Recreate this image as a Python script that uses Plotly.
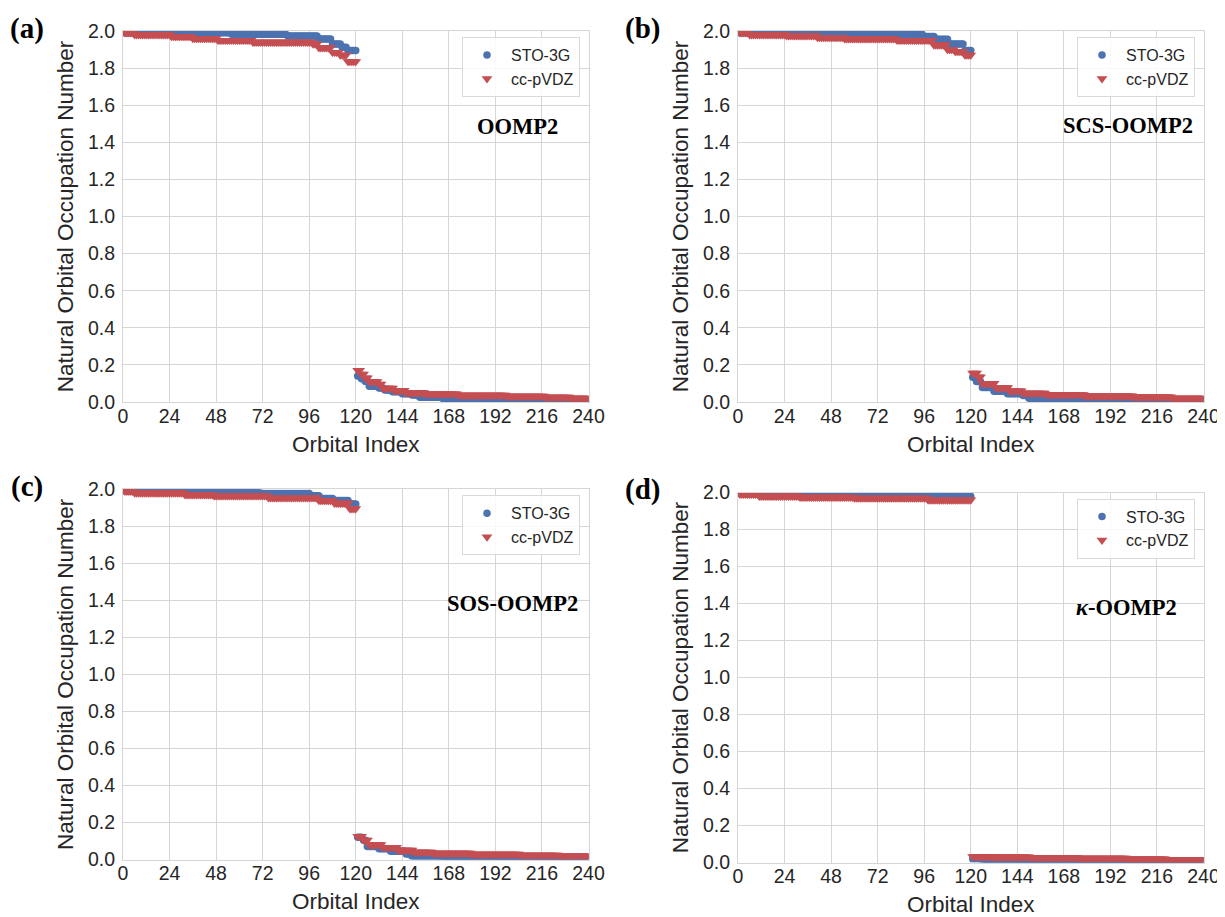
import numpy as np
import plotly.graph_objects as go

# ---- data: (value, count) plateaus ----
# orbital indices 1..120 (occupied) and 121..240 (virtual)
orbital_index = list(range(1, 241))
x_ticks = [0, 24, 48, 72, 96, 120, 144, 168, 192, 216, 240]
y_ticks = [0.0, 0.2, 0.4, 0.6, 0.8, 1.0, 1.2, 1.4, 1.6, 1.8, 2.0]

# (a) OOMP2
a_sto_occ = [(1.99, 55), (1.982, 29), (1.973, 16), (1.957, 7), (1.93, 5), (1.912, 3), (1.895, 5)]
a_dz_occ = [(1.99, 5), (1.98, 19), (1.97, 11), (1.96, 13), (1.95, 18), (1.94, 31), (1.93, 3),
            (1.91, 7), (1.885, 4), (1.87, 4), (1.835, 5)]
a_sto_vir = [(0.14, 2), (0.125, 2), (0.11, 2), (0.085, 5), (0.075, 3), (0.065, 4), (0.055, 5),
             (0.045, 5), (0.038, 4), (0.025, 12), (0.018, 20), (0.014, 26), (0.011, 30)]
a_dz_vir = [(0.17, 2), (0.15, 2), (0.13, 2), (0.11, 5), (0.097, 2), (0.075, 6), (0.062, 6),
            (0.05, 10), (0.044, 17), (0.037, 25), (0.031, 20), (0.026, 13), (0.021, 10)]

# (b) SCS-OOMP2
b_sto_occ = [(1.99, 57), (1.982, 38), (1.97, 6), (1.955, 7), (1.93, 8), (1.895, 4)]
b_dz_occ = [(1.99, 5), (1.98, 19), (1.975, 16), (1.965, 14), (1.958, 27), (1.95, 19),
            (1.925, 7), (1.9, 4), (1.89, 5), (1.87, 4)]
b_sto_vir = [(0.133, 2), (0.11, 3), (0.078, 6), (0.058, 7), (0.045, 8), (0.035, 3),
             (0.02, 15), (0.014, 30), (0.011, 46)]
b_dz_vir = [(0.155, 3), (0.135, 2), (0.1, 7), (0.077, 7), (0.06, 7), (0.048, 12),
            (0.04, 20), (0.033, 25), (0.027, 20), (0.021, 17)]

# (c) SOS-OOMP2
c_sto_occ = [(1.99, 31), (1.985, 39), (1.977, 26), (1.965, 5), (1.95, 7), (1.94, 8), (1.92, 4)]
c_dz_occ = [(1.99, 5), (1.98, 26), (1.97, 15), (1.965, 28), (1.955, 26), (1.94, 8),
            (1.925, 8), (1.895, 4)]
c_sto_vir = [(0.12, 3), (0.104, 2), (0.07, 6), (0.058, 6), (0.045, 8), (0.03, 3),
             (0.018, 15), (0.013, 30), (0.01, 47)]
c_dz_vir = [(0.125, 3), (0.105, 3), (0.08, 7), (0.066, 8), (0.05, 8), (0.04, 10),
            (0.034, 20), (0.029, 25), (0.024, 20), (0.019, 16)]

# (d) kappa-OOMP2
d_sto_occ = [(1.995, 30), (1.99, 30), (1.985, 37), (1.98, 23)]
d_dz_occ = [(1.99, 10), (1.98, 21), (1.975, 28), (1.97, 38), (1.96, 23)]
d_sto_vir = [(0.02, 5), (0.015, 20), (0.011, 40), (0.009, 55)]
d_dz_vir = [(0.032, 10), (0.03, 20), (0.027, 25), (0.024, 25), (0.02, 20), (0.017, 20)]

panel_labels = ["(a)", "(b)", "(c)", "(d)"]
method_labels = ["<b>OOMP2</b>", "<b>SCS-OOMP2</b>", "<b>SOS-OOMP2</b>", "<b><i>κ</i>-OOMP2</b>"]
series_names = ["STO-3G", "cc-pVDZ"]


def expand(segs):
    out = []
    for v, n in segs:
        out += [v] * n
    return out


panels = [
    (expand(a_sto_occ) + expand(a_sto_vir), expand(a_dz_occ) + expand(a_dz_vir)),
    (expand(b_sto_occ) + expand(b_sto_vir), expand(b_dz_occ) + expand(b_dz_vir)),
    (expand(c_sto_occ) + expand(c_sto_vir), expand(c_dz_occ) + expand(c_dz_vir)),
    (expand(d_sto_occ) + expand(d_sto_vir), expand(d_dz_occ) + expand(d_dz_vir)),
]

BLUE = "#4c72b0"
RED = "#c44e52"
GRID = "#d6d6d6"
TXT = "#262626"
W, H = 1225, 917
OFF = 8  # page body margin in the browser


def px(X):
    return (X - OFF) / W


def py(Y):
    return 1 - (Y - OFF) / H


# plot-area boxes in screen pixels: (left, right, top, bottom)
boxes = [
    (123, 588.5, 31, 402),
    (738, 1203.5, 31, 402),
    (123, 588.5, 489.3, 859.5),
    (738, 1203.5, 492.5, 862.5),
]

fig = go.Figure()
layout = dict(
    width=W, height=H, autosize=False,
    margin=dict(l=0, r=0, t=0, b=0, autoexpand=False),
    paper_bgcolor="white", plot_bgcolor="white",
    font=dict(family="Liberation Sans, Arial, sans-serif", color=TXT),
    annotations=[],
)

for i, (sto, dz) in enumerate(panels):
    k = "" if i == 0 else str(i + 1)
    xa, ya = "x" + k, "y" + k
    leg = "legend" + k
    fig.add_trace(go.Scatter(
        x=orbital_index, y=sto, mode="markers", name=series_names[0],
        marker=dict(symbol="circle", size=7.5, color=BLUE, line=dict(width=0)),
        xaxis=xa, yaxis=ya, legend=leg,
    ))
    fig.add_trace(go.Scatter(
        x=orbital_index, y=dz, mode="markers", name=series_names[1],
        marker=dict(symbol="triangle-down", size=9.5, color=RED, line=dict(width=0)),
        xaxis=xa, yaxis=ya, legend=leg,
    ))
    l, r, t, b = boxes[i]
    axis_common = dict(
        showgrid=True, gridcolor=GRID, gridwidth=1,
        showline=True, linecolor=GRID, linewidth=1.2, mirror=True,
        zeroline=False, ticks="", automargin=False,
        tickfont=dict(size=19.5, color=TXT, family="Liberation Sans, Arial, sans-serif"),
    )
    layout["xaxis" + k] = dict(
        axis_common, domain=[px(l), px(r)], anchor=ya, range=[0, 240],
        tickvals=x_ticks, ticktext=[str(v) for v in x_ticks], ticklabelstandoff=-4,
        title=dict(text="Orbital Index", font=dict(size=22.5, color=TXT), standoff=10),
    )
    layout["yaxis" + k] = dict(
        axis_common, domain=[py(b), py(t)], anchor=xa, range=[0, 2.0],
        tickvals=y_ticks, ticktext=[f"{v:.1f}" for v in y_ticks], ticklabelstandoff=3,
        title=dict(text="Natural Orbital Occupation Number", font=dict(size=22.5, color=TXT), standoff=8),
    )
    layout[leg] = dict(
        x=px(r - 8.5), y=py(t + 6), xanchor="right", yanchor="top",
        bgcolor="rgba(255,255,255,0.85)", bordercolor="#d9d9d9", borderwidth=1,
        font=dict(size=16, color=TXT), tracegroupgap=0, itemsizing="trace",
        itemwidth=38,
    )
    # panel letter
    layout["annotations"].append(dict(
        text="<b>" + panel_labels[i] + "</b>", xref="paper", yref="paper",
        x=px(l - 96), y=py(t - 3), xanchor="center", yanchor="middle",
        showarrow=False, font=dict(family="Liberation Serif, Times New Roman, serif", size=29, color="black"),
    ))

method_pos = [(517, 126), (1128, 125), (512, 603), (1126, 607)]
for i, (mx, my) in enumerate(method_pos):
    layout["annotations"].append(dict(
        text=method_labels[i], xref="paper", yref="paper",
        x=px(mx), y=py(my), xanchor="center", yanchor="middle", showarrow=False,
        font=dict(family="Liberation Serif, Times New Roman, serif", size=22.5, color="black"),
    ))

fig.update_layout(**layout)
fig.write_html("out.html")
